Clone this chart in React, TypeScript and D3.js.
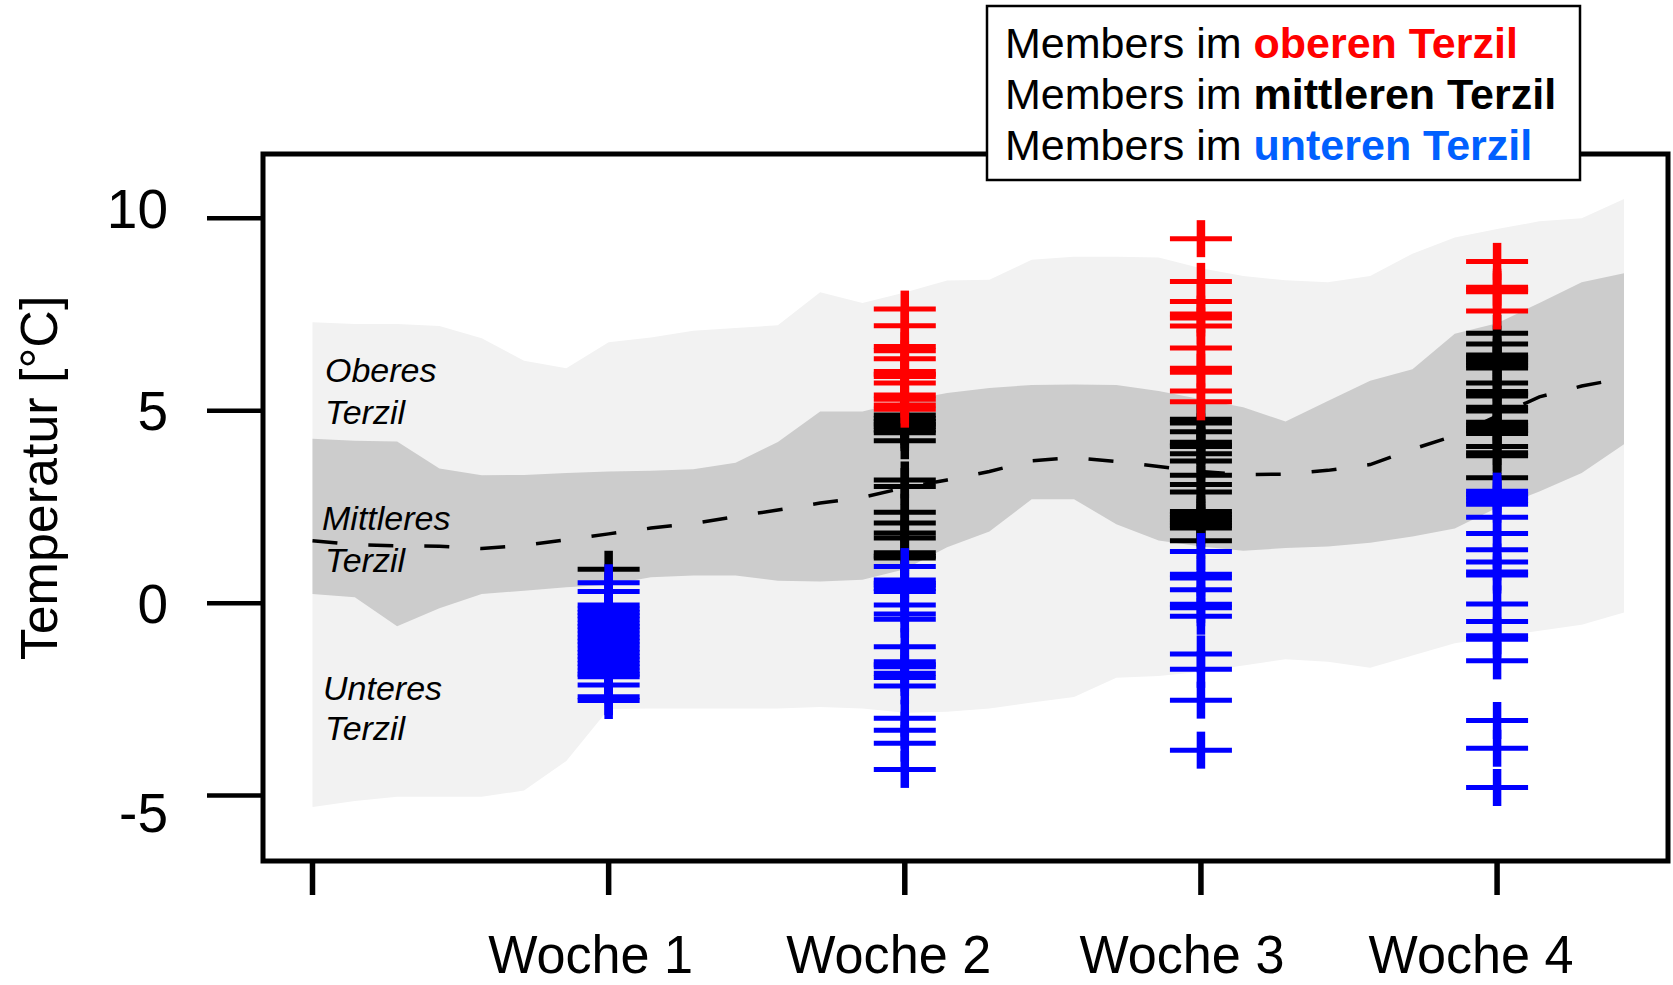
import React from "react";
import * as d3 from "d3";

// Tage seit Start (x-Achse)
const days = [0, 1, 2, 3, 4, 5, 6, 7, 8, 9, 10, 11, 12, 13, 14, 15, 16, 17, 18, 19, 20, 21, 22, 23, 24, 25, 26, 27, 28, 29, 30, 31];

// Klimatologie-Bänder
const outerUpper = [7.3, 7.25, 7.25, 7.2, 6.88, 6.3, 6.1, 6.78, 6.9, 7.08, 7.15, 7.22, 8.08, 7.8, 8.07, 8.38, 8.4, 8.92, 9.0, 9.0, 8.98, 8.7, 8.5, 8.39, 8.34, 8.5, 9.08, 9.5, 9.72, 9.92, 10.0, 10.5];
const innerUpper = [4.27, 4.22, 4.2, 3.5, 3.32, 3.33, 3.38, 3.42, 3.44, 3.48, 3.65, 4.19, 4.98, 4.98, 5.25, 5.46, 5.59, 5.67, 5.68, 5.67, 5.51, 5.3, 5.09, 4.72, 5.25, 5.78, 6.08, 7.0, 7.27, 7.8, 8.34, 8.57];
const innerLower = [0.24, 0.15, -0.6, -0.13, 0.24, 0.32, 0.41, 0.48, 0.67, 0.72, 0.72, 0.58, 0.56, 0.61, 0.88, 1.45, 1.86, 2.7, 2.7, 2.05, 1.63, 1.47, 1.36, 1.43, 1.47, 1.57, 1.73, 1.94, 2.48, 2.9, 3.38, 4.13];
const outerLower = [-5.3, -5.14, -5.03, -5.03, -5.03, -4.87, -4.1, -2.75, -2.74, -2.74, -2.74, -2.74, -2.7, -2.74, -2.85, -2.82, -2.74, -2.58, -2.44, -1.94, -1.89, -1.78, -1.62, -1.46, -1.52, -1.68, -1.36, -1.04, -0.88, -0.72, -0.56, -0.24];
const median = [1.62, 1.52, 1.49, 1.48, 1.42, 1.5, 1.65, 1.8, 1.95, 2.07, 2.25, 2.42, 2.6, 2.75, 3.0, 3.2, 3.42, 3.7, 3.78, 3.68, 3.55, 3.42, 3.34, 3.35, 3.45, 3.6, 4.0, 4.35, 4.86, 5.36, 5.64, 5.85];

// Ensemble-Members pro Woche
const weekDays = [7, 14, 21, 28];
const weekLabels = ["Woche 1", "Woche 2", "Woche 3", "Woche 4"];
const upperMembers = [
  [],
  [7.64, 7.21, 6.67, 6.56, 6.35, 6.02, 5.95, 5.89, 5.72, 5.41, 5.3, 5.15, 5.04],
  [9.47, 8.36, 7.84, 7.51, 7.41, 7.2, 6.63, 6.1, 6.0, 5.51, 5.23],
  [8.88, 8.21, 8.15, 8.09, 7.59],
];
const middleMembers = [
  [0.88],
  [4.89, 4.8, 4.72, 4.65, 4.59, 4.5, 4.43, 4.22, 3.2, 3.03, 2.36, 2.08, 1.82, 1.69, 1.31, 1.22, 1.17],
  [4.78, 4.68, 4.45, 4.18, 4.1, 4.07, 3.88, 3.69, 3.32, 3.08, 2.89, 2.38, 2.3, 2.23, 2.16, 2.09, 2.02, 1.95, 1.62],
  [7.01, 6.73, 6.45, 6.39, 6.32, 6.25, 6.18, 6.11, 5.72, 5.5, 5.44, 5.38, 5.09, 4.99, 4.7, 4.62, 4.55, 4.48, 4.41, 4.07, 3.91, 3.83, 3.26],
];
const lowerMembers = [
  [0.53, 0.3, -0.05, -0.15, -0.24, -0.33, -0.42, -0.52, -0.61, -0.7, -0.8, -0.9, -0.99, -1.08, -1.19, -1.28, -1.38, -1.47, -1.57, -1.66, -1.76, -1.85, -1.91, -2.13, -2.43, -2.53],
  [0.95, 0.6, 0.52, 0.47, 0.38, 0.3, -0.05, -0.28, -0.42, -1.13, -1.52, -1.6, -1.65, -1.82, -1.93, -2.15, -2.99, -3.3, -3.64, -4.32],
  [1.34, 0.75, 0.65, 0.35, -0.03, -0.12, -0.34, -1.32, -1.72, -2.52, -3.82],
  [2.91, 2.83, 2.76, 2.66, 2.57, 2.23, 1.81, 1.39, 1.07, 0.81, 0.73, -0.02, -0.48, -0.85, -0.94, -1.5, -3.05, -3.77, -4.79],
];

const yTicks = [10, 5, 0, -5];
const xTicks = [0, 7, 14, 21, 28];

const FONT = "'Liberation Sans', Arial, Helvetica, sans-serif";

export default function App() {
  const W = 1673;
  const H = 985;
  const box = { left: 263, right: 1668, top: 154, bottom: 861 };

  const x = d3.scaleLinear().domain([-1.17, 32.04]).range([box.left, box.right]);
  const y = d3.scaleLinear().domain([-6.7, 11.67]).range([box.bottom, box.top]);

  const area = (lo: number[], hi: number[]) =>
    d3
      .area<number>()
      .x((d) => x(d))
      .y0((_, i) => y(lo[i]))
      .y1((_, i) => y(hi[i]))(days) as string;

  const medianPath = d3
    .line<number>()
    .x((d) => x(d))
    .y((_, i) => y(median[i]))(days) as string;

  const cross = (day: number, v: number, color: string, key: string) => {
    const cx = x(day);
    const cy = y(v);
    return (
      <g key={key} stroke={color}>
        <line x1={cx - 31} x2={cx + 31} y1={cy} y2={cy} strokeWidth={5} />
        <line x1={cx} x2={cx} y1={cy - 18.5} y2={cy + 18.5} strokeWidth={8.5} />
      </g>
    );
  };

  const yLabelShift: Record<number, number> = { 10: -9, 5: 0, 0: 1, [-5]: 17 };
  const xLabelShift = [-18, -16, -19, -26];

  return (
    <svg
      width={W}
      height={H}
      style={{ position: "absolute", left: 0, top: 0, background: "#fff" }}
      fontFamily={FONT}
    >
      <path d={area(outerLower, outerUpper)} fill="#f2f2f2" />
      <path d={area(innerLower, innerUpper)} fill="#cccccc" />

      <g fontStyle="italic" fontSize={34} fill="#000">
        <text x={325} y={382}>Oberes</text>
        <text x={325} y={424}>Terzil</text>
        <text x={322} y={530}>Mittleres</text>
        <text x={325} y={572}>Terzil</text>
        <text x={323} y={700}>Unteres</text>
        <text x={325} y={740}>Terzil</text>
      </g>

      <path d={medianPath} fill="none" stroke="#000" strokeWidth={3.5} strokeDasharray="25 31" />

      {weekDays.map((day, w) => (
        <g key={"w" + w}>
          {middleMembers[w].map((v, i) => cross(day, v, "#000000", `m${w}-${i}`))}
          {upperMembers[w].map((v, i) => cross(day, v, "#ff0000", `u${w}-${i}`))}
          {lowerMembers[w].map((v, i) => cross(day, v, "#0000ff", `l${w}-${i}`))}
        </g>
      ))}

      <rect
        x={box.left}
        y={box.top}
        width={box.right - box.left}
        height={box.bottom - box.top}
        fill="none"
        stroke="#000"
        strokeWidth={5}
      />

      {yTicks.map((t) => (
        <g key={"yt" + t}>
          <line x1={207} x2={box.left} y1={y(t)} y2={y(t)} stroke="#000" strokeWidth={4.5} />
          <text x={168} y={y(t) + 19 + yLabelShift[t]} fontSize={55} textAnchor="end">
            {t}
          </text>
        </g>
      ))}

      {xTicks.map((t) => (
        <line key={"xt" + t} x1={x(t)} x2={x(t)} y1={box.bottom} y2={895} stroke="#000" strokeWidth={5.5} />
      ))}
      {weekDays.map((day, i) => (
        <text
          key={"xl" + i}
          x={x(day) + xLabelShift[i]}
          y={973}
          fontSize={53}
          textAnchor="middle"
          textLength={205}
          lengthAdjust="spacingAndGlyphs"
        >
          {weekLabels[i]}
        </text>
      ))}

      <text transform={`translate(57,478) rotate(-90)`} fontSize={52} textAnchor="middle">
        Temperatur [°C]
      </text>

      <rect x={987} y={6} width={593} height={174} fill="#fff" stroke="#000" strokeWidth={2.5} />
      <g fontSize={43}>
        <text x={1005} y={58}>
          Members im <tspan fill="#ff0000" fontWeight="bold">oberen Terzil</tspan>
        </text>
        <text x={1005} y={109}>
          Members im <tspan fill="#000000" fontWeight="bold">mittleren Terzil</tspan>
        </text>
        <text x={1005} y={160}>
          Members im <tspan fill="#0060ff" fontWeight="bold">unteren Terzil</tspan>
        </text>
      </g>
    </svg>
  );
}
